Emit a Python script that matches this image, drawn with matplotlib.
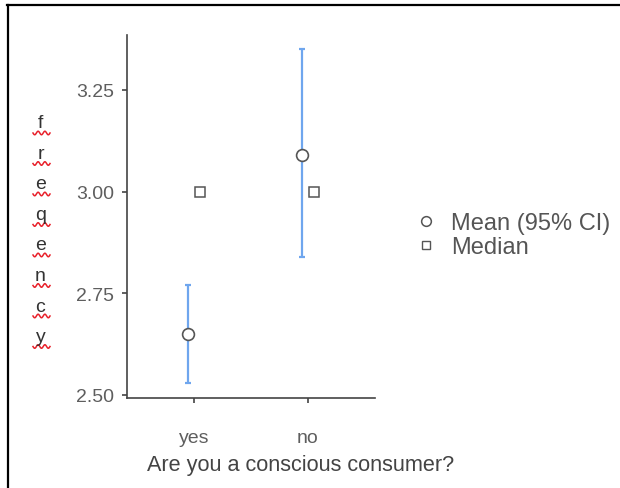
import numpy as np
import matplotlib.pyplot as plt
from matplotlib.lines import Line2D

plt.rcParams['font.family'] = ['Liberation Sans', 'DejaVu Sans']

# dados
categorias = ['yes', 'no']
medias = [2.65, 3.09]
ic_inferior = [2.53, 2.84]
ic_superior = [2.77, 3.35]
medianas = [3.00, 3.00]
ticks_y = [2.50, 2.75, 3.00, 3.25]
rotulo_y = 'freqency'
rotulo_x = 'Are you a conscious consumer?'

cinza_texto = '#5e5e5e'
cinza_eixo = '#444444'
azul = '#6fa6ee'

fig = plt.figure(figsize=(6.2, 4.89), dpi=100)
ax = fig.add_axes([127 / 620, 1 - 399 / 489, 248 / 620, 363 / 489])

x = np.arange(1, len(categorias) + 1)
medias = np.array(medias)
erro = [medias - np.array(ic_inferior), np.array(ic_superior) - medias]

ax.errorbar(x - 0.05, medias, yerr=erro, fmt='none', ecolor=azul,
            elinewidth=1.6, capsize=2, capthick=1.6, zorder=2)
ax.plot(x - 0.05, medias, 'o', ms=8.5, mfc='white', mec='#555555', mew=1.2, zorder=3)
ax.plot(x + 0.05, medianas, 's', ms=7, mfc='white', mec='#555555', mew=1.1, zorder=3)

ax.set_xlim(0.41, 2.59)
ax.set_ylim(2.492, 3.385)
ax.set_xticks(x)
ax.set_xticklabels(categorias)
ax.set_yticks(ticks_y)
ax.set_yticklabels([f'{v:.2f}' for v in ticks_y])

for lado in ['top', 'right']:
    ax.spines[lado].set_visible(False)
for lado in ['left', 'bottom']:
    ax.spines[lado].set_color(cinza_eixo)
    ax.spines[lado].set_linewidth(1.2)

ax.tick_params(axis='both', colors=cinza_eixo, labelcolor=cinza_texto,
               length=3.5, width=1.2, labelsize=14)
ax.tick_params(axis='y', pad=6)
ax.tick_params(axis='x', pad=19)

fig.text(301 / 620, 1 - 466 / 489, rotulo_x, ha='center', va='center',
         fontsize=15.6, color='#444444')

# rotulo vertical letra por letra, com sublinhado ondulado vermelho
for i, letra in enumerate(rotulo_y):
    yc = 124 + i * 30.5
    fig.text(40.5 / 620, 1 - yc / 489, letra, ha='center', va='center',
             fontsize=14, color='#333333')
    xs = np.linspace(33, 50, 30)
    ys = yc + 10 + 1.8 * np.sin((xs - 33) / 17 * 2.5 * 2 * np.pi)
    fig.add_artist(Line2D(xs / 620, 1 - ys / 489, color='#e8202a', lw=1.1))

handles = [
    Line2D([], [], marker='o', ls='none', ms=7, mfc='white', mec='#555555', mew=1.1),
    Line2D([], [], marker='s', ls='none', ms=6, mfc='white', mec='#555555', mew=1.0),
]
fig.legend(handles, ['Mean (95% CI)', 'Median'], loc='center left',
           bbox_to_anchor=(400 / 620, 1 - 236 / 489), frameon=False,
           fontsize=17, labelcolor='#555555', handlelength=1.2,
           handletextpad=0.45, labelspacing=0.1, borderpad=0)

# moldura do print
fig.add_artist(Line2D([7 / 620, 1], [1 - 6 / 489, 1 - 6 / 489], color='black', lw=1.6))
fig.add_artist(Line2D([8 / 620, 8 / 620], [1 - 6 / 489, 0], color='black', lw=1.6))

fig.savefig('out.png', dpi=100)
